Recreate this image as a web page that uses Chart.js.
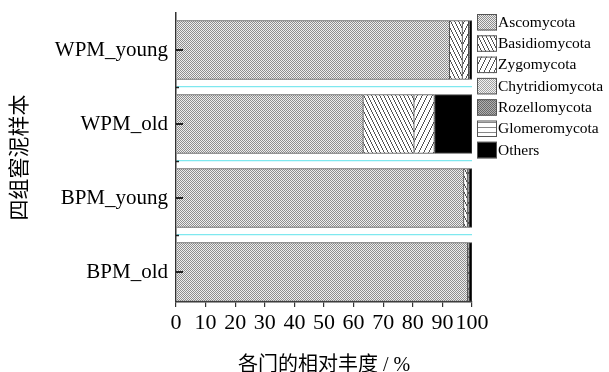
<!DOCTYPE html>
<html>
<head>
<meta charset="utf-8">
<script src="https://cdn.jsdelivr.net/npm/chart.js@4/dist/chart.umd.min.js"></script>
<style>
  html, body { margin: 0; padding: 0; background: #fff; }
  #wrap { width: 609px; height: 372px; }
</style>
</head>
<body>
<div id="wrap"><canvas id="c" width="609" height="372"></canvas></div>
<script>
// ---- data ----
const categories = ['WPM_young', 'WPM_old', 'BPM_young', 'BPM_old'];
const categoryPositions = [1, 2, 3, 4];
const phyla = ['Ascomycota', 'Basidiomycota', 'Zygomycota', 'Chytridiomycota', 'Rozellomycota', 'Glomeromycota', 'Others'];
const ascomycota      = [92.5, 63.3, 97.3, 98.6];
const basidiomycota   = [4.3, 17.2, 1.2, 0.2];
const zygomycota      = [2.1, 6.8, 0.4, 0.1];
const chytridiomycota = [0.1, 0.1, 0.05, 0.05];
const rozellomycota   = [0.05, 0.05, 0.02, 0.02];
const glomeromycota   = [0.05, 0.05, 0.03, 0.03];
const others          = [0.9, 12.5, 1.0, 1.0];
const xTicks = [0, 10, 20, 30, 40, 50, 60, 70, 80, 90, 100];
const xTitle = '各门的相对丰度 / %';
const yTitle = '四组窖泥样本';

const seriesValues = [ascomycota, basidiomycota, zygomycota, chytridiomycota, rozellomycota, glomeromycota, others];

// ---- patterns ----
function makePattern(w, h, draw) {
  const c = document.createElement('canvas');
  c.width = w; c.height = h;
  const g = c.getContext('2d');
  g.fillStyle = '#fff';
  g.fillRect(0, 0, w, h);
  draw(g);
  return g.createPattern(c, 'repeat');
}
function bitmap(rows, dark, light) {
  return makePattern(rows[0].length, rows.length, g => {
    rows.forEach((r, y) => {
      for (let x = 0; x < r.length; x++) {
        g.fillStyle = r[x] === '1' ? dark : light;
        g.fillRect(x, y, 1, 1);
      }
    });
  });
}
const patAsco = bitmap(['10', '01'], '#8e8e8e', '#eeeeee');
const patBasidio = makePattern(4, 8, g => {
  g.fillStyle = '#555';
  for (let y = 0; y < 8; y++) g.fillRect(Math.floor(y / 2), y, 1, 1);
});
const patZygo = makePattern(5, 10, g => {
  g.fillStyle = '#555';
  for (let y = 0; y < 10; y++) g.fillRect(4 - Math.floor(y / 2), y, 1, 1);
});
const patChytri = bitmap(['10', '01'], '#a2a2a2', '#f2f2f2');
const patRozello = bitmap(['10', '01'], '#6a6a6a', '#b0b0b0');
const patGlomero = makePattern(4, 5, g => {
  g.fillStyle = '#888';
  g.fillRect(0, 2, 4, 1);
});
const fills = [patAsco, patBasidio, patZygo, patChytri, patRozello, patGlomero, '#000'];

const datasets = phyla.map((name, i) => ({
  label: name,
  data: seriesValues[i].map((v, j) => ({ x: v, y: categoryPositions[j] })),
  backgroundColor: fills[i],
  borderColor: '#444',
  borderWidth: 1,
  stack: 's',
  barThickness: 59
}));

const SERIF = "'Liberation Serif', 'Times New Roman', serif";
const CJK = "'Liberation Serif', 'Noto Sans CJK SC', sans-serif";

const decorPlugin = {
  id: 'decor',
  afterDraw(chart) {
    const ctx = chart.ctx;
    const ys = chart.scales.y;
    const left = chart.chartArea.left;
    ctx.save();
    ctx.strokeStyle = '#222';
    ctx.lineWidth = 2;
    categoryPositions.forEach(v => {
      const py = Math.round(ys.getPixelForValue(v));
      ctx.beginPath(); ctx.moveTo(left, py); ctx.lineTo(left + 7, py); ctx.stroke();
    });
    ctx.lineWidth = 1.5;
    [1.5, 2.5, 3.5].forEach(v => {
      const py = Math.round(ys.getPixelForValue(v)) + 0.5;
      ctx.beginPath(); ctx.moveTo(left, py); ctx.lineTo(left + 3, py); ctx.stroke();
    });
    // legend
    const lx = 477, ly0 = 14, step = 21.3, bw = 20, bh = 16.5;
    ctx.font = '15.5px ' + SERIF;
    ctx.textBaseline = 'middle';
    ctx.textAlign = 'left';
    chart.data.datasets.forEach((ds, i) => {
      const y = ly0 + i * step;
      ctx.fillStyle = ds.backgroundColor;
      ctx.fillRect(lx, y, bw, bh);
      ctx.lineWidth = 1;
      ctx.strokeStyle = '#555';
      ctx.strokeRect(lx + 0.5, y + 0.5, bw - 1, bh - 1);
      ctx.fillStyle = '#000';
      ctx.fillText(ds.label, lx + bw + 1, y + bh / 2 + 0.5);
    });
    ctx.restore();
  }
};

new Chart(document.getElementById('c'), {
  type: 'bar',
  data: { datasets },
  options: {
    indexAxis: 'y',
    responsive: false,
    animation: false,
    devicePixelRatio: 1,
    layout: { padding: { left: 0, right: 137, top: 13, bottom: 0 } },
    plugins: { legend: { display: false }, tooltip: { enabled: false } },
    scales: {
      x: {
        type: 'linear',
        stacked: true,
        min: 0, max: 100,
        afterBuildTicks: s => { s.ticks = xTicks.map(v => ({ value: v })); },
        afterFit: s => { s.height = 70; },
        grid: { drawOnChartArea: false, drawTicks: true, tickLength: 5, color: '#333', lineWidth: 1.2 },
        border: { display: true, color: '#333', width: 1.5 },
        ticks: {
          autoSkip: false, maxRotation: 0, minRotation: 0,
          padding: 3, color: '#000',
          font: { family: SERIF, size: 22 }
        },
        title: {
          display: true, text: xTitle, color: '#000',
          font: { family: CJK, size: 20, lineHeight: 1.0 },
          padding: { top: 0, bottom: -4 }
        }
      },
      y: {
        type: 'linear',
        stacked: true,
        reverse: true,
        offset: false,
        min: 0.5, max: 4.405,
        afterBuildTicks: s => { s.ticks = [1, 1.5, 2, 2.5, 3, 3.5, 4].map(v => ({ value: v })); },
        afterFit: s => { s.width = 176; s.paddingTop = 0; s.paddingBottom = 0; },
        grid: {
          offset: false,
          drawTicks: false,
          color: c => (c.tick && c.tick.value % 1 !== 0) ? '#7fe8ef' : 'rgba(0,0,0,0)',
          lineWidth: 1.2
        },
        border: { display: true, color: '#333', width: 1.5 },
        ticks: {
          padding: 8, color: '#000',
          font: { family: SERIF, size: 21 },
          callback: v => (v % 1 === 0 ? categories[v - 1] : '')
        },
        title: {
          display: true, text: yTitle, color: '#000',
          font: { family: CJK, size: 21 },
          padding: { top: 8, bottom: 0 }
        }
      }
    }
  },
  plugins: [decorPlugin]
});
</script>
</body>
</html>
